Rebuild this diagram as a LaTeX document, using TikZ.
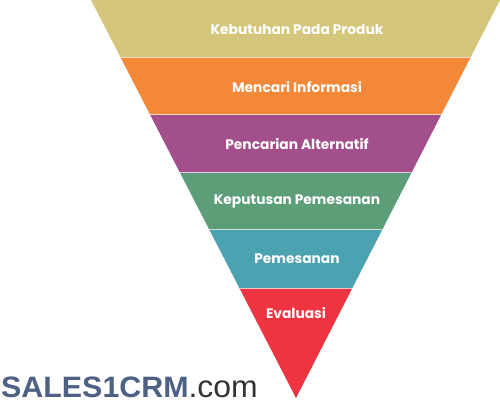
\documentclass[tikz,border=0pt]{standalone}
\usepackage{fontspec}
\setmainfont{Poppins}
\newfontfamily\logofont{Liberation Sans}
\definecolor{cYel}{HTML}{D4C77B}
\definecolor{cOra}{HTML}{F38839}
\definecolor{cPur}{HTML}{A24F8C}
\definecolor{cGre}{HTML}{5B9E78}
\definecolor{cTea}{HTML}{4BA3B1}
\definecolor{cRed}{HTML}{EE3441}
\definecolor{cLogo}{HTML}{4E6084}
\definecolor{cCom}{HTML}{333333}
\begin{document}
\begin{tikzpicture}[x=1pt,y=-1pt,
  lbl/.style={text=white,font=\fontsize{13.8}{15}\selectfont\bfseries,inner sep=0pt},
  gap/.style={draw=white,line width=1pt,opacity=0.7}]
\useasboundingbox (0,0) rectangle (500,401);
\fill[white] (0,0) rectangle (500,401);
\begin{scope}
\clip (91,0) -- (500,0) -- (296,398) -- cycle;
\fill[cYel] (0,0) rectangle (500,57.5);
\fill[cOra] (0,57.5) rectangle (500,115);
\fill[cPur] (0,115) rectangle (500,172.5);
\fill[cGre] (0,172.5) rectangle (500,229.5);
\fill[cTea] (0,229.5) rectangle (500,288);
\fill[cRed] (0,288) rectangle (500,401);
\foreach \y in {57.5,115,172.5,229.5,288} \draw[gap] (0,\y) -- (500,\y);
\end{scope}
\node[lbl] (n1) at (297,29) {Kebutuhan Pada Produk};
\node[lbl] (n2) at (297,87) {Mencari Informasi};
\node[lbl] (n3) at (297,144) {Pencarian Alternatif};
\node[lbl] (n4) at (297,201) {Keputusan Pemesanan};
\node[lbl] (n5) at (297,259) {Pemesanan};
\node[lbl] (n6) at (296,313) {Evaluasi};
\node[anchor=base west,inner sep=0pt,xscale=1.03] (logo) at (1,397)
  {\logofont\fontsize{29.5}{32}\selectfont\textcolor{cLogo}{\bfseries SALES1CRM}\textcolor{cCom}{\fontsize{31}{32}\selectfont.com}};
\end{tikzpicture}
\end{document}
